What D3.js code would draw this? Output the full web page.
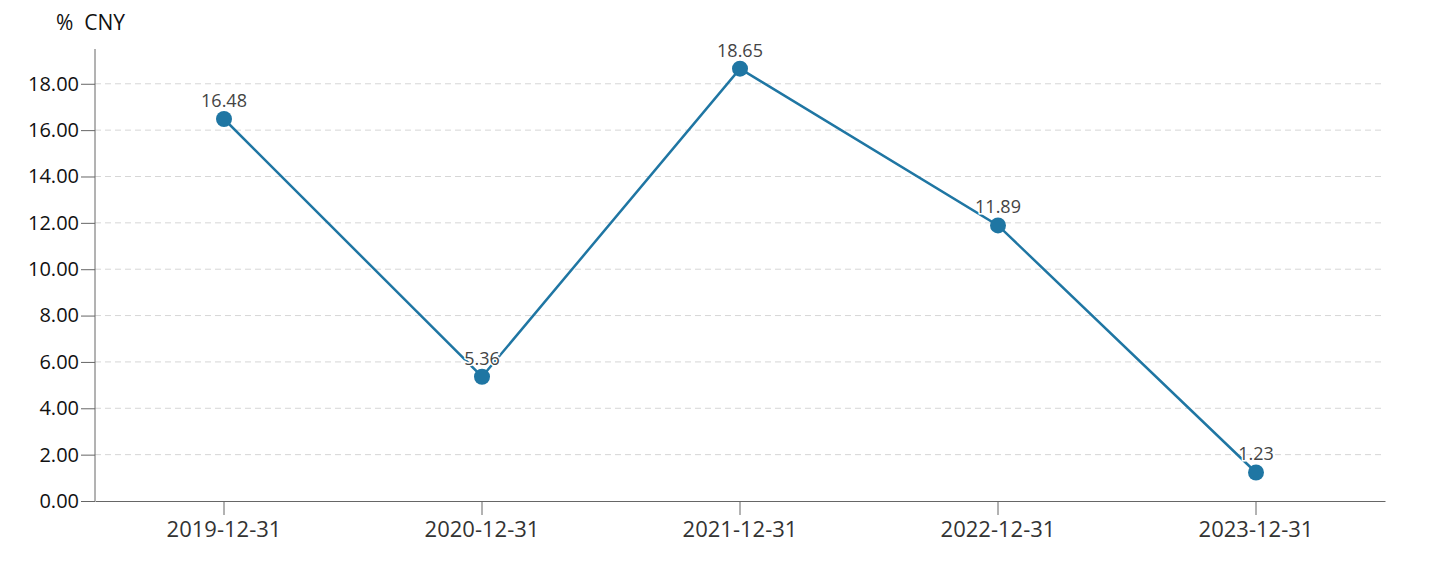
<!DOCTYPE html>
<html>
<head>
<meta charset="utf-8">
<script src="https://cdn.jsdelivr.net/npm/d3@7"></script>
<style>
  body { margin: 0; background: #fff; }
  svg text { font-family: "Open Sans", "Noto Sans", sans-serif; }
</style>
</head>
<body>
<svg width="1447" height="561"></svg>
<script>
// chart data
var dates = ["2019-12-31", "2020-12-31", "2021-12-31", "2022-12-31", "2023-12-31"];
var values = [16.48, 5.36, 18.65, 11.89, 1.23];
var yTicks = [0, 2, 4, 6, 8, 10, 12, 14, 16, 18];
var unitLabel = "%  CNY";

var svg = d3.select("svg");
var mLeft = 95, mRight = 1385, mTop = 49, mBottom = 501;

var x = d3.scaleBand().domain(dates).range([mLeft, mRight]);
var y = d3.scaleLinear().domain([0, 19.5]).range([mBottom, mTop]);

// grid
svg.append("g")
  .selectAll("line")
  .data(yTicks.filter(function(d){ return d > 0; }))
  .enter()
  .append("line")
  .attr("x1", mLeft)
  .attr("x2", mRight)
  .attr("y1", function(d){ return y(d); })
  .attr("y2", function(d){ return y(d); })
  .attr("stroke", "#d6d6d6")
  .attr("stroke-width", 1)
  .attr("stroke-dasharray", "6,4");

// y axis
var yAxis = svg.append("g")
  .attr("transform", "translate(" + mLeft + ",0)")
  .call(d3.axisLeft(y).tickValues(yTicks).tickSize(14).tickPadding(2).tickFormat(d3.format(".2f")));
yAxis.select(".domain").attr("stroke", "#666").attr("d", "M0," + mTop + "V" + mBottom);
yAxis.selectAll(".tick line").attr("stroke", "#666");
yAxis.selectAll("text").attr("font-size", "20px").attr("fill", "#111");

// x axis
var xAxis = svg.append("g")
  .attr("transform", "translate(0," + mBottom + ")")
  .call(d3.axisBottom(x).tickSize(14).tickPadding(6).tickSizeOuter(0));
xAxis.select(".domain").attr("stroke", "#666");
xAxis.selectAll(".tick line").attr("stroke", "#666");
xAxis.selectAll("text").attr("font-size", "22px").attr("fill", "#333");

// unit label
svg.append("text")
  .attr("x", 56)
  .attr("y", 30)
  .attr("font-size", "21px")
  .attr("fill", "#111")
  .attr("xml:space", "preserve")
  .text(unitLabel);

var cx = function(d, i){ return x(dates[i]) + x.bandwidth() / 2; };

// line
var line = d3.line()
  .x(function(d, i){ return cx(d, i); })
  .y(function(d){ return y(d); });

svg.append("path")
  .datum(values)
  .attr("d", line)
  .attr("fill", "none")
  .attr("stroke", "#1f76a3")
  .attr("stroke-width", 2.5);

// points
svg.append("g")
  .selectAll("circle")
  .data(values)
  .enter()
  .append("circle")
  .attr("cx", cx)
  .attr("cy", function(d){ return y(d); })
  .attr("r", 8)
  .attr("fill", "#1f76a3");

// value labels
svg.append("g")
  .selectAll("text")
  .data(values)
  .enter()
  .append("text")
  .attr("x", cx)
  .attr("y", function(d){ return y(d) - 12; })
  .attr("text-anchor", "middle")
  .attr("font-size", "18px")
  .attr("fill", "#444")
  .attr("stroke", "#fff")
  .attr("stroke-width", 3)
  .attr("paint-order", "stroke")
  .text(function(d){ return d.toFixed(2); });
</script>
</body>
</html>
